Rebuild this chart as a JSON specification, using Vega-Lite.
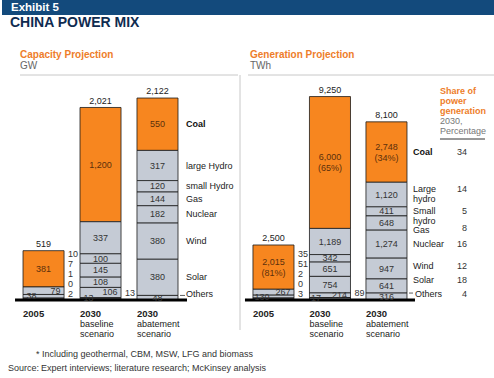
{
  "$schema": "https://vega.github.io/schema/vega-lite/v6.json",
  "padding": {"left": 2, "top": 0, "right": 0, "bottom": 0},
  "background": "white",
  "spacing": 0,
  "config": {
    "view": {"stroke": null},
    "font": "Liberation Sans",
    "text": {"font": "Liberation Sans"},
    "title": {"font": "Liberation Sans", "subtitleFont": "Liberation Sans"}
  },
  "datasets": {
    "one": [{}],
    "cap": [
      {"scen": "2005", "src": "Coal", "ord": 8, "val": 381},
      {"scen": "2005", "src": "large Hydro", "ord": 7, "val": 79},
      {"scen": "2005", "src": "small Hydro", "ord": 6, "val": 38},
      {"scen": "2005", "src": "Gas", "ord": 5, "val": 10},
      {"scen": "2005", "src": "Nuclear", "ord": 4, "val": 7},
      {"scen": "2005", "src": "Wind", "ord": 3, "val": 1},
      {"scen": "2005", "src": "Solar", "ord": 2, "val": 0},
      {"scen": "2005", "src": "Others", "ord": 1, "val": 2},
      {"scen": "2030 baseline scenario", "src": "Coal", "ord": 8, "val": 1200},
      {"scen": "2030 baseline scenario", "src": "large Hydro", "ord": 7, "val": 337},
      {"scen": "2030 baseline scenario", "src": "small Hydro", "ord": 6, "val": 100},
      {"scen": "2030 baseline scenario", "src": "Gas", "ord": 5, "val": 145},
      {"scen": "2030 baseline scenario", "src": "Nuclear", "ord": 4, "val": 108},
      {"scen": "2030 baseline scenario", "src": "Wind", "ord": 3, "val": 106},
      {"scen": "2030 baseline scenario", "src": "Solar", "ord": 2, "val": 13},
      {"scen": "2030 baseline scenario", "src": "Others", "ord": 1, "val": 13},
      {"scen": "2030 abatement scenario", "src": "Coal", "ord": 8, "val": 550},
      {"scen": "2030 abatement scenario", "src": "large Hydro", "ord": 7, "val": 317},
      {"scen": "2030 abatement scenario", "src": "small Hydro", "ord": 6, "val": 120},
      {"scen": "2030 abatement scenario", "src": "Gas", "ord": 5, "val": 144},
      {"scen": "2030 abatement scenario", "src": "Nuclear", "ord": 4, "val": 182},
      {"scen": "2030 abatement scenario", "src": "Wind", "ord": 3, "val": 380},
      {"scen": "2030 abatement scenario", "src": "Solar", "ord": 2, "val": 380},
      {"scen": "2030 abatement scenario", "src": "Others", "ord": 1, "val": 48}
    ],
    "gen": [
      {"scen": "2005", "src": "Coal", "ord": 8, "val": 2015, "pct": "(81%)"},
      {"scen": "2005", "src": "Large hydro", "ord": 7, "val": 267},
      {"scen": "2005", "src": "Small hydro", "ord": 6, "val": 130},
      {"scen": "2005", "src": "Gas", "ord": 5, "val": 35},
      {"scen": "2005", "src": "Nuclear", "ord": 4, "val": 51},
      {"scen": "2005", "src": "Wind", "ord": 3, "val": 2},
      {"scen": "2005", "src": "Solar", "ord": 2, "val": 0},
      {"scen": "2005", "src": "Others", "ord": 1, "val": 3},
      {"scen": "2030 baseline scenario", "src": "Coal", "ord": 8, "val": 6000, "pct": "(65%)"},
      {"scen": "2030 baseline scenario", "src": "Large hydro", "ord": 7, "val": 1189},
      {"scen": "2030 baseline scenario", "src": "Small hydro", "ord": 6, "val": 342},
      {"scen": "2030 baseline scenario", "src": "Gas", "ord": 5, "val": 651},
      {"scen": "2030 baseline scenario", "src": "Nuclear", "ord": 4, "val": 754},
      {"scen": "2030 baseline scenario", "src": "Wind", "ord": 3, "val": 214},
      {"scen": "2030 baseline scenario", "src": "Solar", "ord": 2, "val": 17},
      {"scen": "2030 baseline scenario", "src": "Others", "ord": 1, "val": 89},
      {"scen": "2030 abatement scenario", "src": "Coal", "ord": 8, "val": 2748, "pct": "(34%)", "share": 34},
      {"scen": "2030 abatement scenario", "src": "Large hydro", "ord": 7, "val": 1120, "share": 14},
      {"scen": "2030 abatement scenario", "src": "Small hydro", "ord": 6, "val": 411, "share": 5},
      {"scen": "2030 abatement scenario", "src": "Gas", "ord": 5, "val": 648, "share": 8},
      {"scen": "2030 abatement scenario", "src": "Nuclear", "ord": 4, "val": 1274, "share": 16},
      {"scen": "2030 abatement scenario", "src": "Wind", "ord": 3, "val": 947, "share": 12},
      {"scen": "2030 abatement scenario", "src": "Solar", "ord": 2, "val": 641, "share": 18},
      {"scen": "2030 abatement scenario", "src": "Others", "ord": 1, "val": 316, "share": 4}
    ],
    "capTot": [
      {"scen": "2005", "total": 519},
      {"scen": "2030 baseline scenario", "total": 2021},
      {"scen": "2030 abatement scenario", "total": 2122}
    ],
    "genTot": [
      {"scen": "2005", "total": 2500},
      {"scen": "2030 baseline scenario", "total": 9250},
      {"scen": "2030 abatement scenario", "total": 8100}
    ],
    "xl": [
      {"scen": "2005", "yr": "2005", "sub": ""},
      {"scen": "2030 baseline scenario", "yr": "2030", "sub": "baseline scenario"},
      {"scen": "2030 abatement scenario", "yr": "2030", "sub": "abatement scenario"}
    ]
  },
  "vconcat": [
    {
      "width": 492,
      "height": 15,
      "data": {"name": "one"},
      "view": {"fill": "#134a7c", "stroke": null},
      "mark": {"type": "text", "align": "left", "baseline": "middle", "dx": 9, "dy": 0, "color": "white", "fontWeight": "bold", "fontSize": 11.5},
      "encoding": {
        "x": {"datum": 0, "type": "quantitative", "scale": {"domain": [0, 1]}, "axis": null},
        "text": {"value": "Exhibit 5"}
      }
    },
    {
      "title": {"text": "CHINA POWER MIX", "anchor": "start", "fontSize": 14, "fontWeight": "bold", "color": "#0f2b50", "dx": 8, "offset": 20},
      "spacing": 10,
      "bounds": "flush",
      "hconcat": [
        {
          "width": 8,
          "height": 255,
          "data": {"name": "one"},
          "mark": {"type": "text"},
          "encoding": {"text": {"value": ""}}
        },
        {
          "width": 218,
          "height": 255,
          "title": {"text": "Capacity Projection", "subtitle": "GW", "anchor": "start", "frame": "group", "fontSize": 10, "fontWeight": "bold", "color": "#ee7d2a", "subtitleFontSize": 10, "subtitleColor": "#666666", "subtitlePadding": 1, "offset": 4},
          "data": {"name": "cap"},
          "resolve": {"scale": {"y": "independent"}},
          "layer": [
            {
              "data": {"name": "one"},
              "mark": {"type": "rule", "color": "#c8c8c8", "strokeWidth": 1},
              "encoding": {"y": {"datum": 2363, "type": "quantitative", "scale": {"domain": [-315, 2363], "nice": false, "zero": false}, "axis": null}}
            },
            {
              "data": {"name": "one"},
              "mark": {"type": "rule", "color": "#c8c8c8", "strokeWidth": 1, "xOffset": 62},
              "encoding": {"x": {"datum": "2030 abatement scenario", "type": "nominal", "bandPosition": 1, "scale": {"domain": ["2005", "2030 baseline scenario", "2030 abatement scenario"], "paddingInner": 0.28, "paddingOuter": 0.553, "align": 0.048}, "axis": null}}
            },
            {
              "mark": {"type": "bar", "stroke": "#1a1a1a", "strokeWidth": 0.8},
              "encoding": {
                "x": {"field": "scen", "type": "nominal", "scale": {"domain": ["2005", "2030 baseline scenario", "2030 abatement scenario"], "paddingInner": 0.28, "paddingOuter": 0.553, "align": 0.048}, "axis": null},
                "y": {"field": "val", "type": "quantitative", "stack": "zero", "scale": {"domain": [-315, 2363], "nice": false, "zero": false}, "axis": null},
                "order": {"field": "ord", "type": "quantitative"},
                "detail": {"field": "src"},
                "color": {"condition": {"test": "datum.src=='Coal'", "value": "#f7861f"}, "value": "#c5cbd5"}
              }
            },
            {
              "data": {"name": "one"},
              "mark": {"type": "rule", "color": "#000000", "strokeWidth": 3, "xOffset": -8, "x2Offset": 9},
              "encoding": {
                "y": {"datum": 0, "type": "quantitative", "scale": {"domain": [-315, 2363], "nice": false, "zero": false}, "axis": null},
                "x": {"datum": "2005", "type": "nominal", "bandPosition": 0, "axis": null},
                "x2": {"datum": "2030 abatement scenario", "bandPosition": 1}
              }
            },
            {
              "transform": [{"filter": "datum.scen=='2030 abatement scenario' && datum.src=='Others'"}],
              "mark": {"type": "rule", "color": "#333333", "strokeWidth": 0.8, "xOffset": 7, "x2Offset": 2},
              "encoding": {
                "x": {"field": "scen", "type": "nominal", "bandPosition": 1, "axis": null},
                "x2": {"field": "scen", "bandPosition": 1},
                "y": {"field": "val", "type": "quantitative", "stack": "zero", "scale": {"domain": [-315, 2363], "nice": false, "zero": false}, "axis": null}
              }
            },
            {
              "mark": {"type": "text", "fontSize": 9, "baseline": "middle"},
              "encoding": {
                "x": {"field": "scen", "type": "nominal", "axis": null},
                "y": {"field": "val", "type": "quantitative", "stack": "zero", "bandPosition": 0.5, "scale": {"domain": [-315, 2363], "nice": false, "zero": false}, "axis": null},
                "order": {"field": "ord", "type": "quantitative"},
                "detail": {"field": "src"},
                "text": {"condition": {"test": "(datum.scen=='2005' && datum.src=='Coal') || (datum.scen=='2030 baseline scenario' && indexof(['Coal','large Hydro','small Hydro','Gas','Nuclear'], datum.src) >= 0) || datum.scen=='2030 abatement scenario'", "field": "val", "type": "quantitative", "format": ","}, "value": ""},
                "color": {"condition": {"test": "datum.src=='Coal'", "value": "#5c300c"}, "value": "#333333"}
              }
            },
            {
              "mark": {"type": "text", "fontSize": 9, "baseline": "middle", "align": "right", "dx": 17, "color": "#333333"},
              "encoding": {
                "x": {"field": "scen", "type": "nominal", "axis": null},
                "y": {"field": "val", "type": "quantitative", "stack": "zero", "bandPosition": 0.5, "scale": {"domain": [-315, 2363], "nice": false, "zero": false}, "axis": null},
                "order": {"field": "ord", "type": "quantitative"},
                "detail": {"field": "src"},
                "text": {"condition": {"test": "(datum.scen=='2005' && datum.src=='large Hydro') || (datum.scen=='2030 baseline scenario' && datum.src=='Wind')", "field": "val", "type": "quantitative", "format": ","}, "value": ""}
              }
            },
            {
              "mark": {"type": "text", "fontSize": 9, "baseline": "middle", "align": "left", "dx": -17, "color": "#333333"},
              "encoding": {
                "x": {"field": "scen", "type": "nominal", "axis": null},
                "y": {"field": "val", "type": "quantitative", "stack": "zero", "bandPosition": 0.5, "scale": {"domain": [-315, 2363], "nice": false, "zero": false}, "axis": null},
                "order": {"field": "ord", "type": "quantitative"},
                "detail": {"field": "src"},
                "text": {"condition": {"test": "(datum.scen=='2005' && datum.src=='small Hydro') || (datum.scen=='2030 baseline scenario' && datum.src=='Solar')", "field": "val", "type": "quantitative", "format": ","}, "value": ""}
              }
            },
            {
              "mark": {"type": "text", "fontSize": 9, "baseline": "middle", "align": "left", "dx": 4, "dy": -6, "color": "#333333"},
              "encoding": {
                "x": {"field": "scen", "type": "nominal", "bandPosition": 1, "axis": null},
                "y": {"field": "val", "type": "quantitative", "stack": "zero", "bandPosition": 0.5, "scale": {"domain": [-315, 2363], "nice": false, "zero": false}, "axis": null},
                "order": {"field": "ord", "type": "quantitative"},
                "detail": {"field": "src"},
                "text": {"condition": {"test": "datum.scen=='2030 baseline scenario' && datum.src=='Others'", "field": "val", "type": "quantitative", "format": ","}, "value": ""}
              }
            },
            {
              "transform": [{"filter": "datum.scen=='2005' && datum.ord <= 5"}],
              "mark": {"type": "text", "fontSize": 9, "baseline": "middle", "align": "left", "dx": 4, "color": "#333333"},
              "encoding": {
                "x": {"field": "scen", "type": "nominal", "bandPosition": 1, "axis": null},
                "y": {"field": "ord", "type": "quantitative", "scale": {"domain": [-2.6, 22.9], "nice": false, "zero": false}, "axis": null},
                "text": {"field": "val", "type": "quantitative"}
              }
            },
            {
              "data": {"name": "capTot"},
              "mark": {"type": "text", "fontSize": 9, "baseline": "middle", "dy": -7, "color": "#222222"},
              "encoding": {
                "x": {"field": "scen", "type": "nominal", "axis": null},
                "y": {"field": "total", "type": "quantitative", "scale": {"domain": [-315, 2363], "nice": false, "zero": false}, "axis": null},
                "text": {"field": "total", "type": "quantitative", "format": ","}
              }
            },
            {
              "data": {"name": "xl"},
              "mark": {"type": "text", "fontSize": 9.5, "fontWeight": "bold", "baseline": "middle", "align": "left", "dy": 14, "color": "#222222"},
              "encoding": {
                "x": {"field": "scen", "type": "nominal", "bandPosition": 0, "axis": null},
                "y": {"datum": 0, "type": "quantitative", "scale": {"domain": [-315, 2363], "nice": false, "zero": false}, "axis": null},
                "text": {"field": "yr"}
              }
            },
            {
              "data": {"name": "xl"},
              "mark": {"type": "text", "fontSize": 9, "baseline": "top", "align": "left", "dy": 20, "lineBreak": " ", "lineHeight": 10, "color": "#222222"},
              "encoding": {
                "x": {"field": "scen", "type": "nominal", "bandPosition": 0, "axis": null},
                "y": {"datum": 0, "type": "quantitative", "scale": {"domain": [-315, 2363], "nice": false, "zero": false}, "axis": null},
                "text": {"field": "sub"}
              }
            },
            {
              "mark": {"type": "text", "fontSize": 9, "fontWeight": "bold", "baseline": "middle", "align": "left", "dx": 8, "color": "#111111"},
              "encoding": {
                "x": {"field": "scen", "type": "nominal", "bandPosition": 1, "axis": null},
                "y": {"field": "val", "type": "quantitative", "stack": "zero", "bandPosition": 0.5, "scale": {"domain": [-315, 2363], "nice": false, "zero": false}, "axis": null},
                "order": {"field": "ord", "type": "quantitative"},
                "detail": {"field": "src"},
                "text": {"condition": {"test": "datum.scen=='2030 abatement scenario' && datum.src=='Coal'", "field": "src"}, "value": ""}
              }
            },
            {
              "mark": {"type": "text", "fontSize": 9, "baseline": "middle", "align": "left", "dx": 8, "color": "#222222"},
              "encoding": {
                "x": {"field": "scen", "type": "nominal", "bandPosition": 1, "axis": null},
                "y": {"field": "val", "type": "quantitative", "stack": "zero", "bandPosition": 0.5, "scale": {"domain": [-315, 2363], "nice": false, "zero": false}, "axis": null},
                "order": {"field": "ord", "type": "quantitative"},
                "detail": {"field": "src"},
                "text": {"condition": {"test": "datum.scen=='2030 abatement scenario' && datum.src!='Coal' && datum.src!='Others'", "field": "src"}, "value": ""}
              }
            },
            {
              "mark": {"type": "text", "fontSize": 9, "baseline": "middle", "align": "left", "dx": 8, "dy": -4, "color": "#222222"},
              "encoding": {
                "x": {"field": "scen", "type": "nominal", "bandPosition": 1, "axis": null},
                "y": {"field": "val", "type": "quantitative", "stack": "zero", "bandPosition": 0.5, "scale": {"domain": [-315, 2363], "nice": false, "zero": false}, "axis": null},
                "order": {"field": "ord", "type": "quantitative"},
                "detail": {"field": "src"},
                "text": {"condition": {"test": "datum.scen=='2030 abatement scenario' && datum.src=='Others'", "field": "src"}, "value": ""}
              }
            }
          ]
        },
        {
          "width": 246,
          "height": 255,
          "title": {"text": "Generation Projection", "subtitle": "TWh", "anchor": "start", "frame": "group", "dx": 2, "fontSize": 10, "fontWeight": "bold", "color": "#ee7d2a", "subtitleFontSize": 10, "subtitleColor": "#666666", "subtitlePadding": 1, "offset": 4},
          "data": {"name": "gen"},
          "resolve": {"scale": {"y": "independent"}},
          "layer": [
            {
              "data": {"name": "one"},
              "mark": {"type": "rule", "color": "#c8c8c8", "strokeWidth": 1},
              "encoding": {"y": {"datum": 10237, "type": "quantitative", "scale": {"domain": [-1365, 10237], "nice": false, "zero": false}, "axis": null}}
            },
            {
              "mark": {"type": "bar", "stroke": "#1a1a1a", "strokeWidth": 0.8},
              "encoding": {
                "x": {"field": "scen", "type": "nominal", "scale": {"domain": ["2005", "2030 baseline scenario", "2030 abatement scenario"], "paddingInner": 0.274, "paddingOuter": 0.814, "align": 0.054}, "axis": null},
                "y": {"field": "val", "type": "quantitative", "stack": "zero", "scale": {"domain": [-1365, 10237], "nice": false, "zero": false}, "axis": null},
                "order": {"field": "ord", "type": "quantitative"},
                "detail": {"field": "src"},
                "color": {"condition": {"test": "datum.src=='Coal'", "value": "#f7861f"}, "value": "#c5cbd5"}
              }
            },
            {
              "data": {"name": "one"},
              "mark": {"type": "rule", "color": "#000000", "strokeWidth": 3, "xOffset": -8, "x2Offset": 8},
              "encoding": {
                "y": {"datum": 0, "type": "quantitative", "scale": {"domain": [-1365, 10237], "nice": false, "zero": false}, "axis": null},
                "x": {"datum": "2005", "type": "nominal", "bandPosition": 0, "axis": null},
                "x2": {"datum": "2030 abatement scenario", "bandPosition": 1}
              }
            },
            {
              "transform": [{"filter": "datum.scen=='2030 abatement scenario' && datum.src=='Others'"}],
              "mark": {"type": "rule", "color": "#333333", "strokeWidth": 0.8, "xOffset": 6, "x2Offset": 2},
              "encoding": {
                "x": {"field": "scen", "type": "nominal", "bandPosition": 1, "axis": null},
                "x2": {"field": "scen", "bandPosition": 1},
                "y": {"field": "val", "type": "quantitative", "stack": "zero", "scale": {"domain": [-1365, 10237], "nice": false, "zero": false}, "axis": null}
              }
            },
            {
              "mark": {"type": "text", "fontSize": 9, "baseline": "middle", "color": "#333333"},
              "encoding": {
                "x": {"field": "scen", "type": "nominal", "axis": null},
                "y": {"field": "val", "type": "quantitative", "stack": "zero", "bandPosition": 0.5, "scale": {"domain": [-1365, 10237], "nice": false, "zero": false}, "axis": null},
                "order": {"field": "ord", "type": "quantitative"},
                "detail": {"field": "src"},
                "text": {"condition": {"test": "datum.src!='Coal' && ((datum.scen=='2030 baseline scenario' && indexof(['Large hydro','Small hydro','Gas','Nuclear'], datum.src) >= 0) || datum.scen=='2030 abatement scenario')", "field": "val", "type": "quantitative", "format": ","}, "value": ""}
              }
            },
            {
              "mark": {"type": "text", "fontSize": 9, "baseline": "middle", "dy": -5, "color": "#5c300c"},
              "encoding": {
                "x": {"field": "scen", "type": "nominal", "axis": null},
                "y": {"field": "val", "type": "quantitative", "stack": "zero", "bandPosition": 0.5, "scale": {"domain": [-1365, 10237], "nice": false, "zero": false}, "axis": null},
                "order": {"field": "ord", "type": "quantitative"},
                "detail": {"field": "src"},
                "text": {"condition": {"test": "datum.src=='Coal'", "field": "val", "type": "quantitative", "format": ","}, "value": ""}
              }
            },
            {
              "mark": {"type": "text", "fontSize": 9, "baseline": "middle", "dy": 6, "color": "#5c300c"},
              "encoding": {
                "x": {"field": "scen", "type": "nominal", "axis": null},
                "y": {"field": "val", "type": "quantitative", "stack": "zero", "bandPosition": 0.5, "scale": {"domain": [-1365, 10237], "nice": false, "zero": false}, "axis": null},
                "order": {"field": "ord", "type": "quantitative"},
                "detail": {"field": "src"},
                "text": {"condition": {"test": "datum.src=='Coal'", "field": "pct"}, "value": ""}
              }
            },
            {
              "mark": {"type": "text", "fontSize": 9, "baseline": "middle", "align": "right", "dx": 17, "color": "#333333"},
              "encoding": {
                "x": {"field": "scen", "type": "nominal", "axis": null},
                "y": {"field": "val", "type": "quantitative", "stack": "zero", "bandPosition": 0.5, "scale": {"domain": [-1365, 10237], "nice": false, "zero": false}, "axis": null},
                "order": {"field": "ord", "type": "quantitative"},
                "detail": {"field": "src"},
                "text": {"condition": {"test": "(datum.scen=='2005' && datum.src=='Large hydro') || (datum.scen=='2030 baseline scenario' && datum.src=='Wind')", "field": "val", "type": "quantitative", "format": ","}, "value": ""}
              }
            },
            {
              "mark": {"type": "text", "fontSize": 9, "baseline": "middle", "align": "left", "dx": -19, "color": "#333333"},
              "encoding": {
                "x": {"field": "scen", "type": "nominal", "axis": null},
                "y": {"field": "val", "type": "quantitative", "stack": "zero", "bandPosition": 0.5, "scale": {"domain": [-1365, 10237], "nice": false, "zero": false}, "axis": null},
                "order": {"field": "ord", "type": "quantitative"},
                "detail": {"field": "src"},
                "text": {"condition": {"test": "(datum.scen=='2005' && datum.src=='Small hydro') || (datum.scen=='2030 baseline scenario' && datum.src=='Solar')", "field": "val", "type": "quantitative", "format": ","}, "value": ""}
              }
            },
            {
              "mark": {"type": "text", "fontSize": 9, "baseline": "middle", "align": "left", "dx": 4, "dy": -6, "color": "#333333"},
              "encoding": {
                "x": {"field": "scen", "type": "nominal", "bandPosition": 1, "axis": null},
                "y": {"field": "val", "type": "quantitative", "stack": "zero", "bandPosition": 0.5, "scale": {"domain": [-1365, 10237], "nice": false, "zero": false}, "axis": null},
                "order": {"field": "ord", "type": "quantitative"},
                "detail": {"field": "src"},
                "text": {"condition": {"test": "datum.scen=='2030 baseline scenario' && datum.src=='Others'", "field": "val", "type": "quantitative", "format": ","}, "value": ""}
              }
            },
            {
              "transform": [{"filter": "datum.scen=='2005' && datum.ord <= 5"}],
              "mark": {"type": "text", "fontSize": 9, "baseline": "middle", "align": "left", "dx": 4, "color": "#333333"},
              "encoding": {
                "x": {"field": "scen", "type": "nominal", "bandPosition": 1, "axis": null},
                "y": {"field": "ord", "type": "quantitative", "scale": {"domain": [-2.6, 22.9], "nice": false, "zero": false}, "axis": null},
                "text": {"field": "val", "type": "quantitative"}
              }
            },
            {
              "data": {"name": "genTot"},
              "mark": {"type": "text", "fontSize": 9, "baseline": "middle", "dy": -7, "color": "#222222"},
              "encoding": {
                "x": {"field": "scen", "type": "nominal", "axis": null},
                "y": {"field": "total", "type": "quantitative", "scale": {"domain": [-1365, 10237], "nice": false, "zero": false}, "axis": null},
                "text": {"field": "total", "type": "quantitative", "format": ","}
              }
            },
            {
              "data": {"name": "xl"},
              "mark": {"type": "text", "fontSize": 9.5, "fontWeight": "bold", "baseline": "middle", "align": "left", "dy": 14, "color": "#222222"},
              "encoding": {
                "x": {"field": "scen", "type": "nominal", "bandPosition": 0, "axis": null},
                "y": {"datum": 0, "type": "quantitative", "scale": {"domain": [-1365, 10237], "nice": false, "zero": false}, "axis": null},
                "text": {"field": "yr"}
              }
            },
            {
              "data": {"name": "xl"},
              "mark": {"type": "text", "fontSize": 9, "baseline": "top", "align": "left", "dy": 20, "lineBreak": " ", "lineHeight": 10, "color": "#222222"},
              "encoding": {
                "x": {"field": "scen", "type": "nominal", "bandPosition": 0, "axis": null},
                "y": {"datum": 0, "type": "quantitative", "scale": {"domain": [-1365, 10237], "nice": false, "zero": false}, "axis": null},
                "text": {"field": "sub"}
              }
            },
            {
              "mark": {"type": "text", "fontSize": 9, "fontWeight": "bold", "baseline": "middle", "align": "left", "dx": 6, "color": "#111111"},
              "encoding": {
                "x": {"field": "scen", "type": "nominal", "bandPosition": 1, "axis": null},
                "y": {"field": "val", "type": "quantitative", "stack": "zero", "bandPosition": 0.5, "scale": {"domain": [-1365, 10237], "nice": false, "zero": false}, "axis": null},
                "order": {"field": "ord", "type": "quantitative"},
                "detail": {"field": "src"},
                "text": {"condition": {"test": "datum.scen=='2030 abatement scenario' && datum.src=='Coal'", "field": "src"}, "value": ""}
              }
            },
            {
              "mark": {"type": "text", "fontSize": 9, "baseline": "middle", "align": "left", "dx": 6, "lineBreak": " ", "lineHeight": 10, "color": "#222222"},
              "encoding": {
                "x": {"field": "scen", "type": "nominal", "bandPosition": 1, "axis": null},
                "y": {"field": "val", "type": "quantitative", "stack": "zero", "bandPosition": 0.5, "scale": {"domain": [-1365, 10237], "nice": false, "zero": false}, "axis": null},
                "order": {"field": "ord", "type": "quantitative"},
                "detail": {"field": "src"},
                "text": {"condition": {"test": "datum.scen=='2030 abatement scenario' && indexof(['Small hydro','Nuclear'], datum.src) >= 0", "field": "src"}, "value": ""}
              }
            },
            {
              "mark": {"type": "text", "fontSize": 9, "baseline": "middle", "align": "left", "dx": 6, "dy": -6, "lineBreak": " ", "lineHeight": 10, "color": "#222222"},
              "encoding": {
                "x": {"field": "scen", "type": "nominal", "bandPosition": 1, "axis": null},
                "y": {"field": "val", "type": "quantitative", "stack": "zero", "bandPosition": 0.5, "scale": {"domain": [-1365, 10237], "nice": false, "zero": false}, "axis": null},
                "order": {"field": "ord", "type": "quantitative"},
                "detail": {"field": "src"},
                "text": {"condition": {"test": "datum.scen=='2030 abatement scenario' && indexof(['Large hydro','Solar'], datum.src) >= 0", "field": "src"}, "value": ""}
              }
            },
            {
              "mark": {"type": "text", "fontSize": 9, "baseline": "middle", "align": "left", "dx": 6, "dy": 7, "color": "#222222"},
              "encoding": {
                "x": {"field": "scen", "type": "nominal", "bandPosition": 1, "axis": null},
                "y": {"field": "val", "type": "quantitative", "stack": "zero", "bandPosition": 0.5, "scale": {"domain": [-1365, 10237], "nice": false, "zero": false}, "axis": null},
                "order": {"field": "ord", "type": "quantitative"},
                "detail": {"field": "src"},
                "text": {"condition": {"test": "datum.scen=='2030 abatement scenario' && datum.src=='Gas'", "field": "src"}, "value": ""}
              }
            },
            {
              "mark": {"type": "text", "fontSize": 9, "baseline": "middle", "align": "left", "dx": 8, "dy": -3, "color": "#222222"},
              "encoding": {
                "x": {"field": "scen", "type": "nominal", "bandPosition": 1, "axis": null},
                "y": {"field": "val", "type": "quantitative", "stack": "zero", "bandPosition": 0.5, "scale": {"domain": [-1365, 10237], "nice": false, "zero": false}, "axis": null},
                "order": {"field": "ord", "type": "quantitative"},
                "detail": {"field": "src"},
                "text": {"condition": {"test": "datum.scen=='2030 abatement scenario' && datum.src=='Others'", "field": "src"}, "value": ""}
              }
            },
            {
              "mark": {"type": "text", "fontSize": 9, "baseline": "middle", "align": "left", "dx": 6, "dy": -3, "color": "#222222"},
              "encoding": {
                "x": {"field": "scen", "type": "nominal", "bandPosition": 1, "axis": null},
                "y": {"field": "val", "type": "quantitative", "stack": "zero", "bandPosition": 0.5, "scale": {"domain": [-1365, 10237], "nice": false, "zero": false}, "axis": null},
                "order": {"field": "ord", "type": "quantitative"},
                "detail": {"field": "src"},
                "text": {"condition": {"test": "datum.scen=='2030 abatement scenario' && datum.src=='Wind'", "field": "src"}, "value": ""}
              }
            },
            {
              "mark": {"type": "text", "fontSize": 9, "baseline": "middle", "align": "right", "dx": 60, "color": "#333333"},
              "encoding": {
                "x": {"field": "scen", "type": "nominal", "bandPosition": 1, "axis": null},
                "y": {"field": "val", "type": "quantitative", "stack": "zero", "bandPosition": 0.5, "scale": {"domain": [-1365, 10237], "nice": false, "zero": false}, "axis": null},
                "order": {"field": "ord", "type": "quantitative"},
                "detail": {"field": "src"},
                "text": {"condition": {"test": "datum.scen=='2030 abatement scenario' && indexof(['Coal','Small hydro','Nuclear'], datum.src) >= 0", "field": "share", "type": "quantitative"}, "value": ""}
              }
            },
            {
              "mark": {"type": "text", "fontSize": 9, "baseline": "middle", "align": "right", "dx": 60, "dy": -6, "color": "#333333"},
              "encoding": {
                "x": {"field": "scen", "type": "nominal", "bandPosition": 1, "axis": null},
                "y": {"field": "val", "type": "quantitative", "stack": "zero", "bandPosition": 0.5, "scale": {"domain": [-1365, 10237], "nice": false, "zero": false}, "axis": null},
                "order": {"field": "ord", "type": "quantitative"},
                "detail": {"field": "src"},
                "text": {"condition": {"test": "datum.scen=='2030 abatement scenario' && indexof(['Large hydro','Solar'], datum.src) >= 0", "field": "share", "type": "quantitative"}, "value": ""}
              }
            },
            {
              "mark": {"type": "text", "fontSize": 9, "baseline": "middle", "align": "right", "dx": 60, "dy": 5, "color": "#333333"},
              "encoding": {
                "x": {"field": "scen", "type": "nominal", "bandPosition": 1, "axis": null},
                "y": {"field": "val", "type": "quantitative", "stack": "zero", "bandPosition": 0.5, "scale": {"domain": [-1365, 10237], "nice": false, "zero": false}, "axis": null},
                "order": {"field": "ord", "type": "quantitative"},
                "detail": {"field": "src"},
                "text": {"condition": {"test": "datum.scen=='2030 abatement scenario' && datum.src=='Gas'", "field": "share", "type": "quantitative"}, "value": ""}
              }
            },
            {
              "mark": {"type": "text", "fontSize": 9, "baseline": "middle", "align": "right", "dx": 60, "dy": -3, "color": "#333333"},
              "encoding": {
                "x": {"field": "scen", "type": "nominal", "bandPosition": 1, "axis": null},
                "y": {"field": "val", "type": "quantitative", "stack": "zero", "bandPosition": 0.5, "scale": {"domain": [-1365, 10237], "nice": false, "zero": false}, "axis": null},
                "order": {"field": "ord", "type": "quantitative"},
                "detail": {"field": "src"},
                "text": {"condition": {"test": "datum.scen=='2030 abatement scenario' && indexof(['Wind','Others'], datum.src) >= 0", "field": "share", "type": "quantitative"}, "value": ""}
              }
            },
            {
              "data": {"name": "one"},
              "mark": {"type": "text", "fontSize": 9, "fontWeight": "bold", "baseline": "top", "align": "left", "dx": 33, "lineHeight": 10, "color": "#ee7d2a"},
              "encoding": {
                "x": {"datum": "2030 abatement scenario", "type": "nominal", "bandPosition": 1, "axis": null},
                "y": {"datum": 9691, "type": "quantitative", "scale": {"domain": [-1365, 10237], "nice": false, "zero": false}, "axis": null},
                "text": {"value": ["Share of", "power", "generation"]}
              }
            },
            {
              "data": {"name": "one"},
              "mark": {"type": "text", "fontSize": 9, "baseline": "top", "align": "left", "dx": 33, "lineHeight": 10, "color": "#777777"},
              "encoding": {
                "x": {"datum": "2030 abatement scenario", "type": "nominal", "bandPosition": 1, "axis": null},
                "y": {"datum": 8326, "type": "quantitative", "scale": {"domain": [-1365, 10237], "nice": false, "zero": false}, "axis": null},
                "text": {"value": ["2030,", "Percentage"]}
              }
            },
            {
              "data": {"name": "one"},
              "mark": {"type": "rule", "color": "#333333", "strokeWidth": 1, "xOffset": 33, "x2Offset": 78},
              "encoding": {
                "x": {"datum": "2030 abatement scenario", "type": "nominal", "bandPosition": 1, "axis": null},
                "x2": {"datum": "2030 abatement scenario", "bandPosition": 1},
                "y": {"datum": 7325, "type": "quantitative", "scale": {"domain": [-1365, 10237], "nice": false, "zero": false}, "axis": null}
              }
            }
          ]
        }
      ]
    },
    {
      "width": 492,
      "height": 30,
      "data": {"name": "one"},
      "layer": [
        {
          "mark": {"type": "text", "align": "left", "baseline": "middle", "dx": 34, "dy": -1, "fontSize": 9, "color": "#333333"},
          "encoding": {
            "x": {"datum": 0, "type": "quantitative", "scale": {"domain": [0, 1]}, "axis": null},
            "text": {"value": "*  Including geothermal, CBM, MSW, LFG and biomass"}
          }
        },
        {
          "mark": {"type": "text", "align": "left", "baseline": "middle", "dx": 6, "dy": 13, "fontSize": 9, "color": "#333333"},
          "encoding": {
            "x": {"datum": 0, "type": "quantitative", "scale": {"domain": [0, 1]}, "axis": null},
            "text": {"value": "Source:"}
          }
        },
        {
          "mark": {"type": "text", "align": "left", "baseline": "middle", "dx": 39, "dy": 13, "fontSize": 9, "color": "#333333"},
          "encoding": {
            "x": {"datum": 0, "type": "quantitative", "scale": {"domain": [0, 1]}, "axis": null},
            "text": {"value": "Expert interviews; literature research; McKinsey analysis"}
          }
        }
      ]
    }
  ]
}
